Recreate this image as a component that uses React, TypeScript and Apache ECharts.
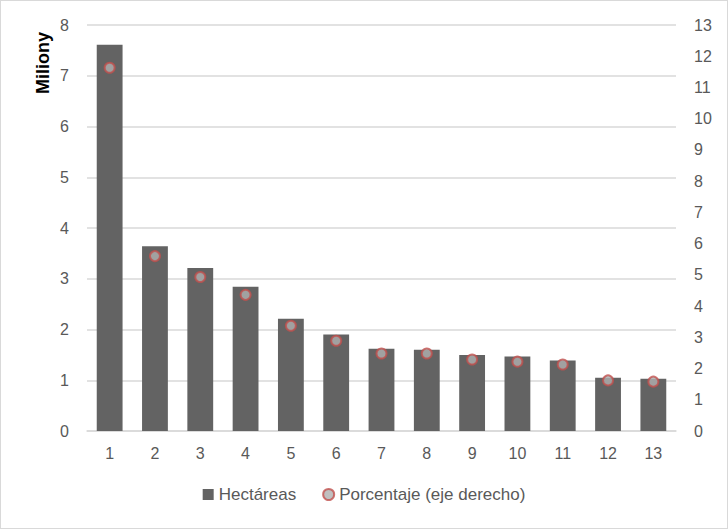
import React, { useEffect, useRef } from "react";
import * as echarts from "echarts";

const categories = ["1", "2", "3", "4", "5", "6", "7", "8", "9", "10", "11", "12", "13"];
const hectareas = [7.61, 3.64, 3.21, 2.84, 2.21, 1.9, 1.62, 1.6, 1.5, 1.47, 1.39, 1.05, 1.03];
const porcentaje = [11.63, 5.6, 4.93, 4.36, 3.37, 2.89, 2.48, 2.48, 2.29, 2.22, 2.13, 1.62, 1.58];
const leftAxisName = "Miliony";

const FONT = "'Liberation Sans', 'DejaVu Sans', sans-serif";

export default function App() {
  const ref = useRef<HTMLDivElement>(null);
  useEffect(() => {
    document.body.style.margin = "0";
    if (!ref.current) return;
    const chart = echarts.init(ref.current, null, { renderer: "svg" });
    chart.setOption({
      animation: false,
      backgroundColor: "#ffffff",
      textStyle: { fontFamily: FONT },
      grid: { left: 86, right: 51, top: 24, bottom: 97 },
      graphic: [
        {
          type: "text",
          x: 42,
          y: 62,
          rotation: Math.PI / 2,
          style: {
            text: leftAxisName,
            fill: "#000000",
            font: `bold 18px ${FONT}`,
            align: "center",
            verticalAlign: "middle",
          },
        },
      ],
      legend: {
        bottom: 20,
        left: "center",
        itemGap: 26,
        itemWidth: 11,
        itemHeight: 11,
        itemStyle: {},
        textStyle: { color: "#595959", fontSize: 17, fontFamily: FONT },
        data: [
          { name: "Hectáreas", icon: "rect" },
          { name: "Porcentaje (eje derecho)", icon: "circle" },
        ],
      },
      xAxis: {
        type: "category",
        data: categories,
        axisLine: { lineStyle: { color: "#d9d9d9", width: 1.5 } },
        axisTick: { show: false },
        axisLabel: { color: "#595959", fontSize: 16, margin: 14 },
      },
      yAxis: [
        {
          type: "value",
          min: 0,
          max: 8,
          interval: 1,
          axisLine: { show: false },
          axisTick: { show: false },
          axisLabel: { color: "#595959", fontSize: 16, margin: 18 },
          splitLine: { lineStyle: { color: "#d9d9d9", width: 1.5 } },
        },
        {
          type: "value",
          min: 0,
          max: 13,
          interval: 1,
          position: "right",
          axisLine: { show: false },
          axisTick: { show: false },
          axisLabel: { color: "#595959", fontSize: 16, margin: 18 },
          splitLine: { show: false },
        },
      ],
      series: [
        {
          name: "Hectáreas",
          type: "bar",
          data: hectareas,
          yAxisIndex: 0,
          barWidth: "57%",
          itemStyle: { color: "#636363" },
        },
        {
          name: "Porcentaje (eje derecho)",
          type: "scatter",
          data: porcentaje,
          yAxisIndex: 1,
          symbol: "circle",
          symbolSize: 10,
          itemStyle: { color: "#b0b0b0", borderColor: "#c0504d", borderWidth: 2 },
        },
      ],
    });
    return () => chart.dispose();
  }, []);
  return (
    <div
      ref={ref}
      style={{ width: 728, height: 529, boxSizing: "border-box", border: "1px solid #d9d9d9" }}
    />
  );
}
